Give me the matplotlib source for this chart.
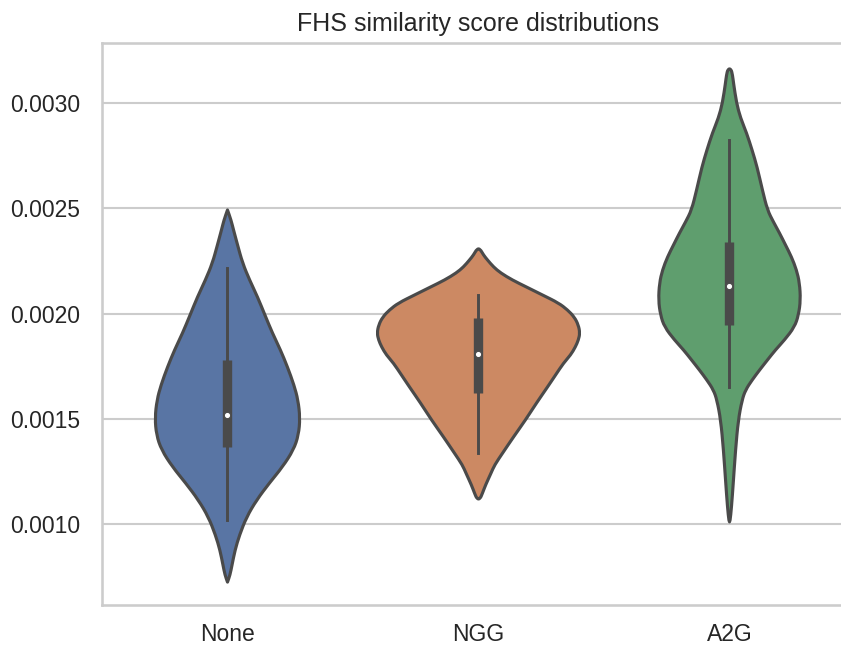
import numpy as np
import matplotlib
matplotlib.use("Agg")
import matplotlib.pyplot as plt
from matplotlib.path import Path
from matplotlib.patches import PathPatch

# ---- data ----
categories = ["None", "NGG", "A2G"]
colors = ["#5975a4", "#cc8963", "#5f9e6e"]

none_scores = [0.002492, 0.002444, 0.002397, 0.002326, 0.002240, 0.002159, 0.002078,
               0.001993, 0.001907, 0.001827, 0.001746, 0.001660, 0.001589, 0.001504,
               0.001423, 0.001352, 0.001271, 0.001195, 0.001114, 0.001033, 0.000948,
               0.000876, 0.000805, 0.000758, 0.000724]
none_width = [0.0, 0.014, 0.024, 0.040, 0.060, 0.088, 0.120, 0.149, 0.179, 0.211, 0.239,
              0.265, 0.281, 0.289, 0.283, 0.263, 0.219, 0.167, 0.116, 0.076, 0.048,
              0.030, 0.018, 0.010, 0.0]

ngg_scores = [0.002307, 0.002278, 0.002254, 0.002221, 0.002193, 0.002159, 0.002126,
              0.002088, 0.002050, 0.002017, 0.001983, 0.001945, 0.001907, 0.001874,
              0.001841, 0.001803, 0.001765, 0.001708, 0.001651, 0.001575, 0.001494,
              0.001413, 0.001337, 0.001280, 0.001242, 0.001185, 0.001147, 0.001119]
ngg_width = [0.006, 0.020, 0.036, 0.060, 0.088, 0.135, 0.191, 0.255, 0.319, 0.355, 0.382,
             0.398, 0.404, 0.398, 0.386, 0.367, 0.339, 0.307, 0.275, 0.231, 0.187, 0.139,
             0.096, 0.064, 0.050, 0.028, 0.016, 0.006]

a2g_scores = [0.003162, 0.003133, 0.003095, 0.003000, 0.002929, 0.002858, 0.002777,
              0.002696, 0.002587, 0.002492, 0.002435, 0.002383, 0.002326, 0.002269,
              0.002207, 0.002145, 0.002064, 0.001993, 0.001936, 0.001874, 0.001827,
              0.001779, 0.001732, 0.001684, 0.001637, 0.001589, 0.001494, 0.001352,
              0.001195, 0.001081, 0.001010]
a2g_width = [0.006, 0.012, 0.016, 0.028, 0.044, 0.068, 0.090, 0.110, 0.131, 0.151, 0.175,
             0.199, 0.223, 0.247, 0.267, 0.279, 0.283, 0.275, 0.259, 0.219, 0.183, 0.151,
             0.120, 0.090, 0.064, 0.050, 0.035, 0.024, 0.015, 0.008, 0.002]

# box statistics: whisker low, q1, median, q3, whisker high
whisker_low = [0.001019, 0.001339, 0.001649]
q1 = [0.001366, 0.001621, 0.001945]
median = [0.001518, 0.001806, 0.002132]
q3 = [0.001779, 0.001977, 0.002341]
whisker_high = [0.002216, 0.002088, 0.002824]

yticks = [0.0010, 0.0015, 0.0020, 0.0025, 0.0030]
title = "FHS similarity score distributions"

profiles = [(none_scores, none_width), (ngg_scores, ngg_width), (a2g_scores, a2g_width)]


def smooth_outline(xs, ys):
    """Closed outline through the read points, drawn with quadratic Bezier segments."""
    pts = np.column_stack([xs, ys])
    n = len(pts)
    mids = (pts + np.roll(pts, -1, axis=0)) / 2.0
    verts = [mids[-1]]
    codes = [Path.MOVETO]
    for k in range(n):
        verts += [pts[k], mids[k]]
        codes += [Path.CURVE3, Path.CURVE3]
    verts.append(mids[-1])
    codes.append(Path.CLOSEPOLY)
    return Path(np.array(verts), codes)


# ---- plot ----
plt.rcParams["font.family"] = ["Liberation Sans", "DejaVu Sans"]
gray = "#4a4a4a"
W, H, DPI = 841, 646, 150
fig = plt.figure(figsize=(W / DPI, H / DPI), dpi=DPI)
ax = fig.add_axes([102 / W, (H - 605) / H, (855 - 102) / W, (605 - 43) / H])

for i, (sc, wd) in enumerate(profiles):
    sc = np.asarray(sc)
    wd = np.asarray(wd)
    xs = np.concatenate([i + wd, (i - wd)[::-1]])
    ys = np.concatenate([sc, sc[::-1]])
    patch = PathPatch(smooth_outline(xs, ys), facecolor=colors[i], edgecolor=gray,
                      linewidth=1.5, zorder=2, joinstyle="round")
    ax.add_patch(patch)
    ax.plot([i, i], [whisker_low[i], whisker_high[i]], color=gray, linewidth=1.4, zorder=3)
    ax.plot([i, i], [q1[i], q3[i]], color=gray, linewidth=4.5, zorder=3,
            solid_capstyle="butt")
    ax.scatter([i], [median[i]], s=9, color="white", edgecolor=gray, linewidth=0.5, zorder=4)

ax.set_xlim(-0.5, 2.5)
ax.set_ylim(0.0006152, 0.0032852)
ax.set_xticks(range(len(categories)))
ax.set_xticklabels(categories)
ax.set_yticks(yticks)
ax.set_yticklabels([f"{v:.4f}" for v in yticks])
ax.tick_params(axis="both", length=0, labelsize=11, labelcolor="#262626")
ax.tick_params(axis="y", pad=10.5)
ax.tick_params(axis="x", pad=8.5)

ax.yaxis.grid(True, color="#cccccc", linewidth=1.0, zorder=0)
ax.xaxis.grid(False)
ax.set_axisbelow(True)
for side in ["left", "top", "bottom", "right"]:
    ax.spines[side].set_color("#cccccc")
    ax.spines[side].set_linewidth(1.25)

ax.set_title(title, fontsize=12, color="#262626")

fig.savefig("out.png", dpi=DPI)
